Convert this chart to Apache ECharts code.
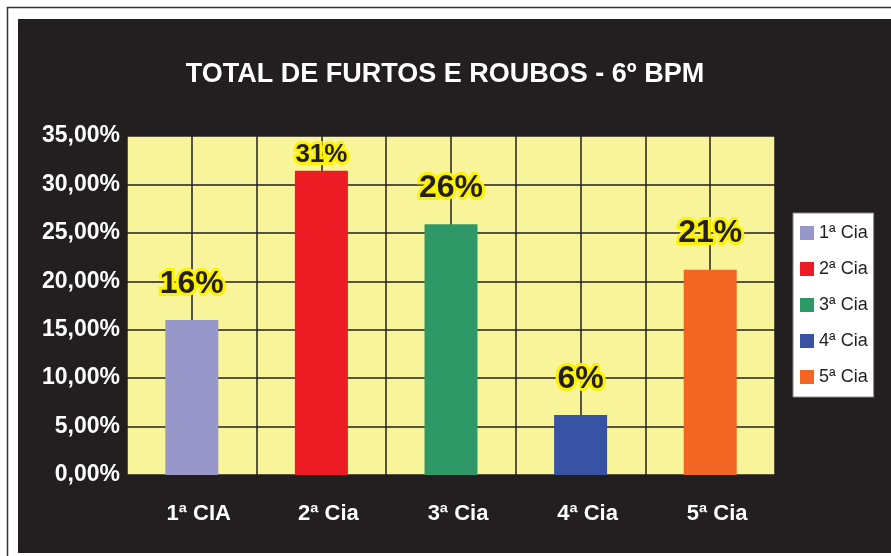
<!DOCTYPE html>
<html>
<head>
<meta charset="utf-8">
<script src="https://cdn.jsdelivr.net/npm/echarts@6/dist/echarts.min.js"></script>
<style>
  html, body { margin: 0; padding: 0; background: #fff; }
  #chart { width: 891px; height: 556px; }
</style>
</head>
<body>
<div id="chart"></div>
<script>
// dados do grafico
var categorias = ['1ª CIA', '2ª Cia', '3ª Cia', '4ª Cia', '5ª Cia'];
var legendas = ['1ª Cia', '2ª Cia', '3ª Cia', '4ª Cia', '5ª Cia'];
var valores = [16.0, 31.4, 25.9, 6.2, 21.2];
var rotulos = ['16%', '31%', '26%', '6%', '21%'];
var cores = ['#9797c9', '#ed1c24', '#2e9966', '#3953a4', '#f26522'];

var fundo = '#231f20';

var series = legendas.map(function (nome, i) {
  var dados = valores.map(function (v, j) { return j === i ? v : null; });
  var lbl = {
    show: true,
    position: 'top',
    distance: i === 1 ? 3 : 20,
    formatter: rotulos[i],
    fontFamily: 'Liberation Sans',
    fontWeight: 'bold',
    fontSize: i === 1 ? 26 : 32,
    lineHeight: i === 1 ? 26 : 32,
    color: fundo,
    textBorderColor: '#fff200',
    textBorderWidth: 6
  };
  return {
    name: nome,
    type: 'bar',
    data: dados,
    barWidth: 53,
    barGap: '-100%',
    itemStyle: { color: cores[i] },
    label: lbl,
    z: 3
  };
});

var myChart = echarts.init(document.getElementById('chart'));
var option = {
  backgroundColor: '#ffffff',
  animation: false,
  graphic: [
    { type: 'rect', shape: { x: 7.5, y: 7.5, width: 900, height: 560 }, style: { fill: '#fff', stroke: '#333', lineWidth: 1.5 }, z: -10 },
    { type: 'rect', shape: { x: 18, y: 19, width: 880, height: 534 }, style: { fill: fundo }, z: -9 }
  ],
  title: {
    text: 'TOTAL DE FURTOS E ROUBOS - 6º BPM',
    left: 440,
    textAlign: 'center',
    top: 56,
    textStyle: { color: '#fff', fontFamily: 'Liberation Sans', fontWeight: 'bold', fontSize: 27 }
  },
  legend: {
    data: legendas,
    orient: 'vertical',
    left: 793,
    top: 213,
    width: 83,
    backgroundColor: '#fff',
    borderColor: '#888',
    borderWidth: 1,
    padding: [11, 6, 11, 7],
    itemWidth: 14,
    itemHeight: 14,
    itemGap: 18,
    icon: 'rect',
    textStyle: { color: fundo, fontFamily: 'Liberation Sans', fontSize: 18 }
  },
  grid: {
    left: 127, top: 136, width: 648, height: 339,
    show: true, backgroundColor: '#f7f49a', borderWidth: 0
  },
  xAxis: [{
    type: 'category',
    data: categorias,
    axisLine: { show: false },
    axisTick: { show: false },
    splitLine: { show: false },
    axisLabel: {
      color: '#fff', fontFamily: 'Liberation Sans', fontWeight: 'bold', fontSize: 22,
      margin: 28, padding: [0, 0, 0, 14]
    }
  }, {
    // eixo auxiliar para a grade vertical
    type: 'value',
    min: 0, max: 10, interval: 1,
    axisLine: { show: false },
    axisTick: { show: false },
    axisLabel: { show: false },
    splitLine: { show: true, lineStyle: { color: fundo, width: 1.5 } }
  }],
  yAxis: {
    type: 'value',
    min: 0, max: 35, interval: 5,
    axisLine: { show: false },
    axisTick: { show: false },
    splitLine: { lineStyle: { color: fundo, width: 1.5 } },
    axisLabel: {
      color: '#fff', fontFamily: 'Liberation Sans', fontWeight: 'bold', fontSize: 23, margin: 7,
      formatter: function (v) { return v.toFixed(2).replace('.', ',') + '%'; }
    }
  },
  series: series
};
myChart.setOption(option);
</script>
</body>
</html>
